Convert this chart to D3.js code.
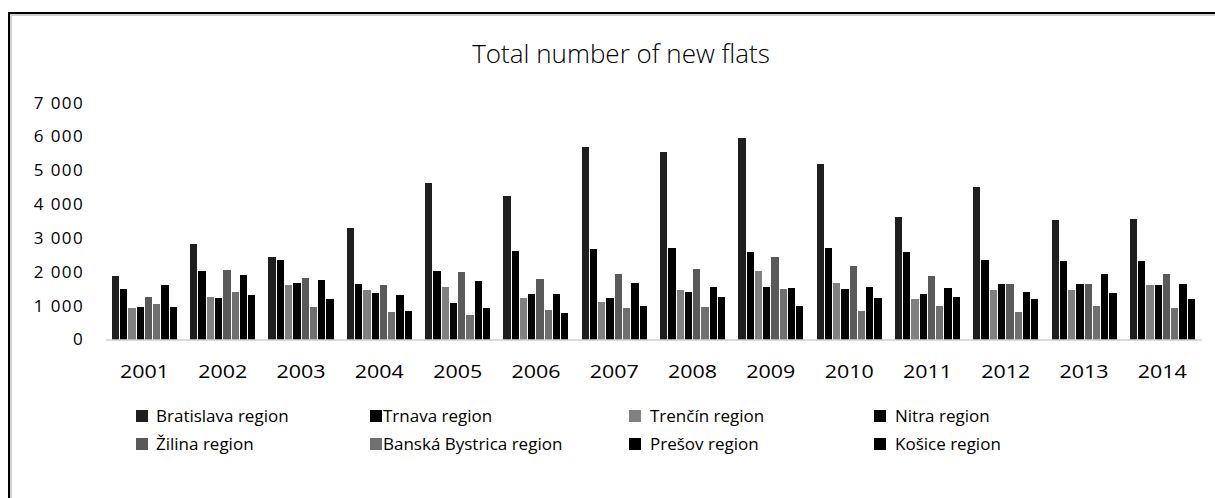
<!DOCTYPE html>
<html lang="en">
<head>
    <meta charset="UTF-8">
    <title>Total number of new flats</title>
    <script src="https://d3js.org/d3.v7.min.js"></script>
    <style>
        body { margin: 0; background: white; }
        svg { display: block; font-family: "Open Sans", Lato, sans-serif; }
        .title { font-size: 26px; font-weight: 300; fill: #000; }
        .tick-y { font-size: 17px; fill: #000; letter-spacing: 1.4px; }
        .tick-x { font-size: 18px; font-weight: 500; fill: #000; }
        .legend-text { font-size: 17px; fill: #000; }
    </style>
</head>
<body>
    <svg width="1215" height="498"></svg>
    <script>
        // data
        var years = ["2001","2002","2003","2004","2005","2006","2007","2008","2009","2010","2011","2012","2013","2014"];
        var regions = ["Bratislava region","Trnava region","Trenčín region","Nitra region",
                       "Žilina region","Banská Bystrica region","Prešov region","Košice region"];
        var bratislava = [1880, 2830, 2440, 3300, 4630, 4250, 5700, 5550, 5960, 5190, 3630, 4510, 3540, 3570];
        var trnava     = [1490, 2030, 2350, 1640, 2030, 2620, 2680, 2710, 2590, 2710, 2590, 2350, 2320, 2320];
        var trencin    = [930, 1260, 1610, 1470, 1550, 1230, 1110, 1470, 2030, 1670, 1200, 1470, 1470, 1610];
        var nitra      = [960, 1230, 1670, 1380, 1080, 1350, 1230, 1410, 1550, 1490, 1350, 1640, 1640, 1610];
        var zilina     = [1260, 2060, 1820, 1610, 2000, 1790, 1940, 2090, 2440, 2180, 1880, 1640, 1640, 1940];
        var bystrica   = [1050, 1410, 960, 810, 730, 870, 930, 960, 1490, 840, 990, 810, 990, 930];
        var presov     = [1610, 1910, 1760, 1320, 1730, 1350, 1670, 1550, 1520, 1550, 1520, 1410, 1940, 1640];
        var kosice     = [960, 1320, 1200, 840, 930, 780, 990, 1260, 990, 1230, 1260, 1200, 1380, 1200];
        var yTicks = [0, 1000, 2000, 3000, 4000, 5000, 6000, 7000];

        var series = [bratislava, trnava, trencin, nitra, zilina, bystrica, presov, kosice];
        var colors = ["#1f1f1f", "#000000", "#808080", "#060606", "#5a5a5a", "#707070", "#000000", "#000000"];

        var svg = d3.select("svg");

        // frame with shadow
        svg.append("line").attr("x1", 8).attr("y1", 13).attr("x2", 1215).attr("y2", 13)
            .attr("stroke", "#000").attr("stroke-width", 2);
        svg.append("line").attr("x1", 9).attr("y1", 12).attr("x2", 9).attr("y2", 498)
            .attr("stroke", "#000").attr("stroke-width", 2);
        svg.append("line").attr("x1", 10).attr("y1", 15).attr("x2", 1215).attr("y2", 15)
            .attr("stroke", "#cfcfcf").attr("stroke-width", 2);
        svg.append("line").attr("x1", 11).attr("y1", 14).attr("x2", 11).attr("y2", 498)
            .attr("stroke", "#cfcfcf").attr("stroke-width", 2);

        svg.append("text")
            .attr("class", "title")
            .attr("x", 621)
            .attr("y", 63)
            .attr("text-anchor", "middle")
            .text("Total number of new flats");

        var x = d3.scaleBand().domain(years).range([105.3, 1201.5]);
        var inner = d3.scaleBand().domain(d3.range(series.length))
            .range([6.6, x.bandwidth() - 6.6]).paddingInner(0.12);
        var y = d3.scaleLinear().domain([0, 7000]).range([339.5, 102.7]);

        var fmt = d3.formatLocale({ decimal: ",", thousands: " ", grouping: [3], currency: ["", ""] }).format(",d");

        // y axis labels only
        var yAxis = svg.append("g")
            .attr("transform", "translate(84,0)")
            .call(d3.axisLeft(y).tickValues(yTicks).tickFormat(fmt).tickSize(0).tickPadding(0));
        yAxis.attr("font-family", null).attr("font-size", null);
        yAxis.select(".domain").remove();
        yAxis.selectAll("text").attr("class", "tick-y");

        // bars
        var groups = svg.append("g").selectAll("g")
            .data(years)
            .enter().append("g")
            .attr("transform", function(d) { return "translate(" + x(d) + ",0)"; });

        groups.selectAll("rect")
            .data(function(d, i) { return series.map(function(s, k) { return { k: k, v: s[i] }; }); })
            .enter().append("rect")
            .attr("x", function(d) { return inner(d.k); })
            .attr("y", function(d) { return y(d.v); })
            .attr("width", inner.bandwidth())
            .attr("height", function(d) { return y(0) - y(d.v); })
            .attr("fill", function(d) { return colors[d.k]; })
            .attr("shape-rendering", "crispEdges");

        // x axis
        var xAxis = svg.append("g")
            .attr("transform", "translate(0," + y(0) + ")")
            .call(d3.axisBottom(x).tickSize(0).tickPadding(26));
        xAxis.attr("font-family", null).attr("font-size", null);
        xAxis.select(".domain").attr("stroke", "#d0d0d0").attr("stroke-width", 1.5);
        xAxis.selectAll("text").attr("class", "tick-x")
            .attr("textLength", 49).attr("lengthAdjust", "spacingAndGlyphs");

        // legend
        var legendX = [136, 370, 629, 874];
        var legendTextX = [156, 383, 650, 895];
        var legendY = [416, 444];

        var legend = svg.append("g").selectAll("g")
            .data(regions)
            .enter().append("g")
            .attr("transform", function(d, i) { return "translate(0," + legendY[Math.floor(i / 4)] + ")"; });

        legend.append("rect")
            .attr("x", function(d, i) { return legendX[i % 4]; })
            .attr("y", -6)
            .attr("width", 12)
            .attr("height", 12)
            .attr("fill", function(d, i) { return colors[i]; });

        legend.append("text")
            .attr("class", "legend-text")
            .attr("x", function(d, i) { return legendTextX[i % 4]; })
            .attr("dy", "0.35em")
            .text(function(d) { return d; });
    </script>
</body>
</html>
